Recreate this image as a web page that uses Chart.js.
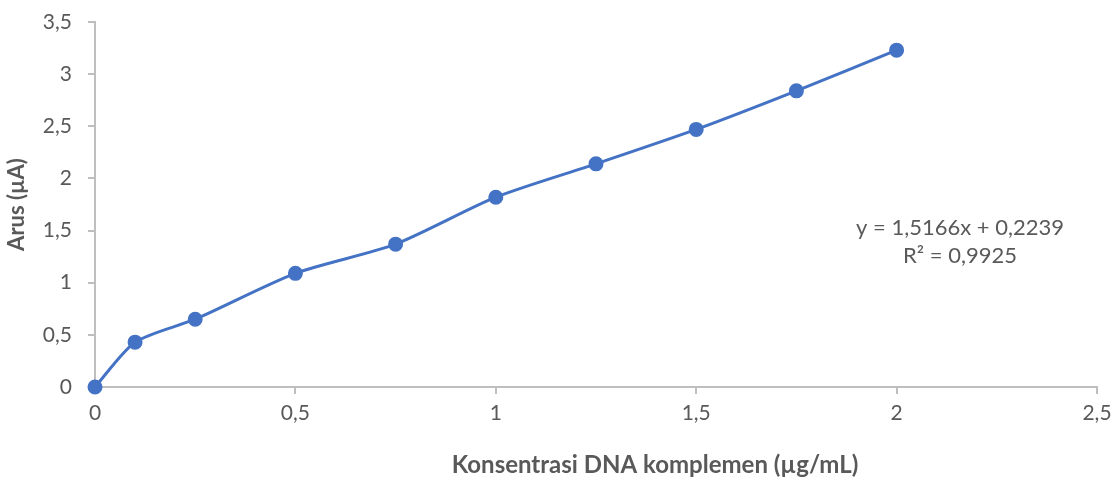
<!DOCTYPE html>
<html>
<head>
<meta charset="utf-8">
<script src="https://cdn.jsdelivr.net/npm/chart.js@4"></script>
<style>
html,body{margin:0;padding:0;background:#fff;}
#wrap{width:1113px;height:477px;position:relative;}
</style>
</head>
<body>
<div id="wrap"><canvas id="c" width="1113" height="477"></canvas></div>
<script>
const concentrations = [0, 0.1, 0.25, 0.5, 0.75, 1, 1.25, 1.5, 1.75, 2];
const currents = [0, 0.43, 0.65, 1.09, 1.37, 1.82, 2.14, 2.47, 2.84, 3.23];
const xTitle = 'Konsentrasi DNA komplemen (µg/mL)';
const yTitle = 'Arus (µA)';
const equationLines = ['y = 1,5166x + 0,2239', 'R² = 0,9925'];

const FONT = 'Lato, "Open Sans", sans-serif';
const TXT = '#595959';
const AXIS = '#bfbfbf';

const overlay = {
  id: 'overlay',
  afterDraw(chart) {
    const ctx = chart.ctx;
    ctx.save();
    ctx.fillStyle = TXT;
    ctx.textAlign = 'center';
    ctx.textBaseline = 'middle';
    ctx.font = 'bold 24px ' + FONT;
    ctx.fillText(xTitle, 655, 465);
    ctx.font = '22px ' + FONT;
    ctx.fillText(equationLines[0], 960, 228);
    ctx.fillText(equationLines[1], 960, 256);
    ctx.restore();
  }
};

const fmt = v => String(v).replace('.', ',');

new Chart(document.getElementById('c'), {
  type: 'line',
  data: {
    datasets: [{
      data: concentrations.map((x, i) => ({x: x, y: currents[i]})),
      borderColor: '#4472C4',
      backgroundColor: '#4472C4',
      borderWidth: 3,
      pointRadius: 6,
      pointHoverRadius: 6,
      tension: 0.25,
      clip: false,
      fill: false
    }]
  },
  plugins: [overlay],
  options: {
    responsive: false,
    animation: false,
    layout: {padding: {left: 0, right: 16, top: 22, bottom: 0}},
    plugins: {legend: {display: false}, tooltip: {enabled: false}},
    scales: {
      x: {
        type: 'linear',
        min: 0, max: 2.5,
        ticks: {stepSize: 0.5, color: TXT, font: {family: FONT, size: 21}, padding: 7, maxRotation: 0, callback: v => fmt(v)},
        grid: {display: true, drawOnChartArea: false, drawTicks: true, tickLength: 7, color: AXIS, lineWidth: 2},
        border: {display: true, color: AXIS, width: 2},
        afterFit(s) { s.height = 90; s.paddingLeft = 0; s.paddingRight = 0; }
      },
      y: {
        min: 0, max: 3.5,
        ticks: {stepSize: 0.5, color: TXT, font: {family: FONT, size: 21}, padding: 16, callback: v => fmt(v)},
        grid: {display: true, drawOnChartArea: false, drawTicks: true, tickLength: 7, color: AXIS, lineWidth: 2},
        border: {display: true, color: AXIS, width: 2},
        title: {display: true, text: yTitle, color: TXT, font: {family: FONT, size: 22, weight: 'bold'}, padding: {top: 4, bottom: 0}},
        afterFit(s) { s.width = 95; s.paddingTop = 0; s.paddingBottom = 0; }
      }
    }
  }
});
</script>
</body>
</html>
